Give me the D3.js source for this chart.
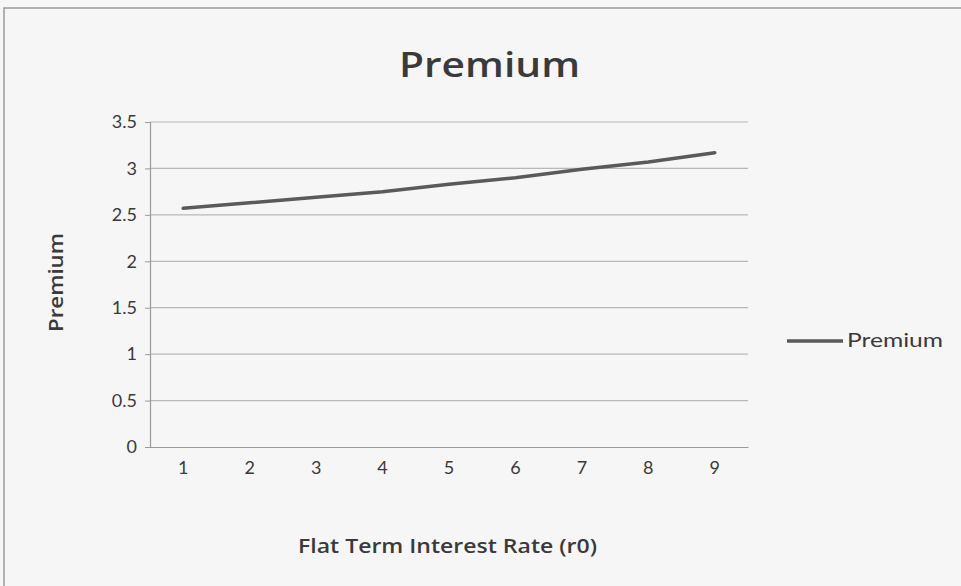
<!DOCTYPE html>
<html>
<head>
<meta charset="utf-8">
<script src="https://cdn.jsdelivr.net/npm/d3@7"></script>
<style>
  html, body { margin: 0; padding: 0; background: #f6f6f6; }
  svg { display: block; }
  text { font-family: Lato, "Open Sans", sans-serif; fill: #3a3a3a; }
  .ttl { font-family: "Open Sans", Lato, sans-serif; font-weight: 600; }
</style>
</head>
<body>
<svg id="chart" width="961" height="586"></svg>
<script>
const categories = [1, 2, 3, 4, 5, 6, 7, 8, 9];
const premium = [2.57, 2.63, 2.69, 2.75, 2.83, 2.90, 2.99, 3.07, 3.17];
const yTicks = [0, 0.5, 1, 1.5, 2, 2.5, 3, 3.5];
const seriesName = "Premium";
const chartTitle = "Premium";
const xTitle = "Flat Term Interest Rate (r0)";
const yTitle = "Premium";

const svg = d3.select("#chart");
const W = 961, H = 586;
const m = { left: 150, right: 213, top: 122, bottom: 139 };
const iw = W - m.left - m.right, ih = H - m.top - m.bottom;

// frame
svg.append("rect").attr("x", 0).attr("y", 0).attr("width", W).attr("height", H).attr("fill", "#f6f6f6");
svg.append("path").attr("d", `M4,${H} V8 H${W}`).attr("fill", "none").attr("stroke", "#9a9a9a").attr("stroke-width", 1.5);

const g = svg.append("g").attr("transform", `translate(${m.left},${m.top})`);

const x = d3.scaleBand().domain(categories).range([0, iw]);
const y = d3.scaleLinear().domain([0, 3.5]).range([ih, 0]);

// gridlines
g.append("g").selectAll("line").data(yTicks.filter(d => d > 0)).join("line")
  .attr("x1", 0).attr("x2", iw)
  .attr("y1", d => y(d)).attr("y2", d => y(d))
  .attr("stroke", "#b8b8b8").attr("stroke-width", 1.2);

// y axis
const yAxis = g.append("g").call(d3.axisLeft(y).tickValues(yTicks).tickFormat(d3.format("")).tickSize(5).tickPadding(8));
yAxis.select(".domain").attr("stroke", "#9a9a9a").attr("stroke-width", 1.2);
yAxis.selectAll(".tick line").attr("stroke", "#9a9a9a");
yAxis.selectAll("text").attr("font-size", 18).attr("fill", "#3a3a3a").attr("font-family", "Lato, 'Open Sans', sans-serif");

// x axis
const xAxis = g.append("g").attr("transform", `translate(0,${ih})`)
  .call(d3.axisBottom(x).tickSize(0).tickPadding(14));
xAxis.select(".domain").attr("stroke", "#9a9a9a").attr("stroke-width", 1.2);
xAxis.selectAll("text").attr("font-size", 18).attr("fill", "#3a3a3a").attr("font-family", "Lato, 'Open Sans', sans-serif");

// line
const line = d3.line().x((d, i) => x(categories[i]) + x.bandwidth() / 2).y(d => y(d));
g.append("path").datum(premium).attr("d", line)
  .attr("fill", "none").attr("stroke", "#5a5a5a").attr("stroke-width", 3.5).attr("stroke-linecap", "round");

// titles
svg.append("text").attr("class", "ttl").attr("x", 399).attr("y", 77)
  .attr("textLength", 181).attr("lengthAdjust", "spacingAndGlyphs")
  .attr("font-size", 34).attr("fill", "#3e3e3e").text(chartTitle);
svg.append("text").attr("class", "ttl").attr("x", 298).attr("y", 553)
  .attr("textLength", 299).attr("lengthAdjust", "spacingAndGlyphs")
  .attr("font-size", 20).text(xTitle);
svg.append("text").attr("class", "ttl").attr("transform", "translate(63,332) rotate(-90)")
  .attr("textLength", 99).attr("lengthAdjust", "spacingAndGlyphs")
  .attr("font-size", 20).text(yTitle);

// legend
svg.append("line").attr("x1", 787).attr("x2", 843).attr("y1", 341).attr("y2", 341)
  .attr("stroke", "#5a5a5a").attr("stroke-width", 3.5);
svg.append("text").attr("x", 847).attr("y", 347)
  .attr("textLength", 96).attr("lengthAdjust", "spacingAndGlyphs")
  .attr("font-size", 20).text(seriesName);
</script>
</body>
</html>
